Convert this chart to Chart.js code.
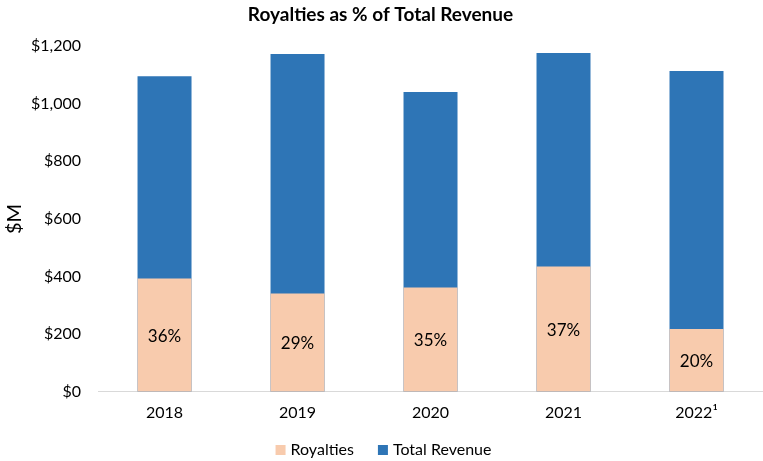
<!DOCTYPE html>
<html><head><meta charset="utf-8">
<script src="https://cdn.jsdelivr.net/npm/chart.js@4"></script>
<style>html,body{margin:0;padding:0;background:#fff}#wrap{width:763px;height:461px}</style>
</head><body><div id="wrap"><canvas id="c"></canvas></div>
<script>
const categories = ['2018', '2019', '2020', '2021', '2022\u00B9'];
const royalties = [393, 341, 362, 435, 218];
const totalRevenue = [1095, 1172, 1040, 1176, 1113];
const royaltyPct = ['36%', '29%', '35%', '37%', '20%'];
const yTicks = [0, 200, 400, 600, 800, 1000, 1200];
const yAxisTitle = '$M';
const chartTitle = 'Royalties as % of Total Revenue';

const FONT = 'Lato, "Open Sans", sans-serif';

const decorPlugin = {
  id: 'decor',
  afterDatasetsDraw(chart) {
    const meta = chart.getDatasetMeta(0);
    const ctx = chart.ctx;
    const W = chart.width;
    ctx.save();
    ctx.fillStyle = '#000';
    ctx.textAlign = 'center';
    ctx.textBaseline = 'middle';
    // percentage labels
    ctx.font = '17px ' + FONT;
    meta.data.forEach((bar, i) => {
      const mid = (bar.y + bar.base) / 2;
      ctx.fillText(royaltyPct[i], bar.x, mid + 1);
    });
    // title
    ctx.font = 'bold 19px ' + FONT;
    ctx.fillText(chartTitle, W / 2 - 1, 15);
    // legend
    ctx.font = '16px ' + FONT;
    ctx.textAlign = 'left';
    const items = chart.data.datasets.map(d => ({ label: d.label, color: d.backgroundColor }));
    const box = 10, gapBT = 5, gapItem = 24;
    const widths = items.map(it => box + gapBT + ctx.measureText(it.label).width);
    const total = widths.reduce((a, b) => a + b, 0) + gapItem * (items.length - 1);
    let x = W / 2 - total / 2 + 2;
    const ly = 450;
    items.forEach((it, i) => {
      ctx.fillStyle = it.color;
      ctx.fillRect(x, ly - box / 2, box, box);
      ctx.fillStyle = '#000';
      ctx.fillText(it.label, x + box + gapBT, ly);
      x += widths[i] + gapItem;
    });
    // y-axis title
    const ca = chart.chartArea;
    ctx.textAlign = 'center';
    ctx.translate(15, (ca.top + ca.bottom) / 2);
    ctx.rotate(-Math.PI / 2);
    ctx.font = '20px ' + FONT;
    ctx.fillText(yAxisTitle, 0, 0);
    ctx.restore();
  }
};

new Chart(document.getElementById('c'), {
  type: 'bar',
  data: {
    labels: categories,
    datasets: [
      { label: 'Royalties', data: royalties, backgroundColor: '#F8CBAD', borderWidth: 0 },
      { label: 'Total Revenue', data: totalRevenue, backgroundColor: '#2E75B6', borderWidth: 0 }
    ]
  },
  options: {
    responsive: true,
    maintainAspectRatio: false,
    animation: false,
    devicePixelRatio: 1,
    datasets: { bar: { categoryPercentage: 1, barPercentage: 0.406 } },
    layout: { padding: { left: 14, right: 0, top: 46, bottom: 28 } },
    plugins: {
      title: { display: false },
      legend: { display: false },
      tooltip: { enabled: false }
    },
    scales: {
      x: {
        stacked: true,
        grid: { display: false, drawTicks: false },
        border: { display: true, color: '#D9D9D9', width: 1 },
        ticks: { color: '#000', font: { family: FONT, size: 16 }, padding: 11 }
      },
      y: {
        stacked: false,
        min: 0, max: 1200,
        afterBuildTicks(axis) { axis.ticks = yTicks.map(v => ({ value: v })); },
        grid: { display: false, drawTicks: false },
        border: { display: false },
        title: { display: false },
        ticks: {
          color: '#000', font: { family: FONT, size: 16 }, padding: 17,
          callback: v => '$' + v.toLocaleString('en-US')
        }
      }
    }
  },
  plugins: [decorPlugin]
});
</script></body></html>
